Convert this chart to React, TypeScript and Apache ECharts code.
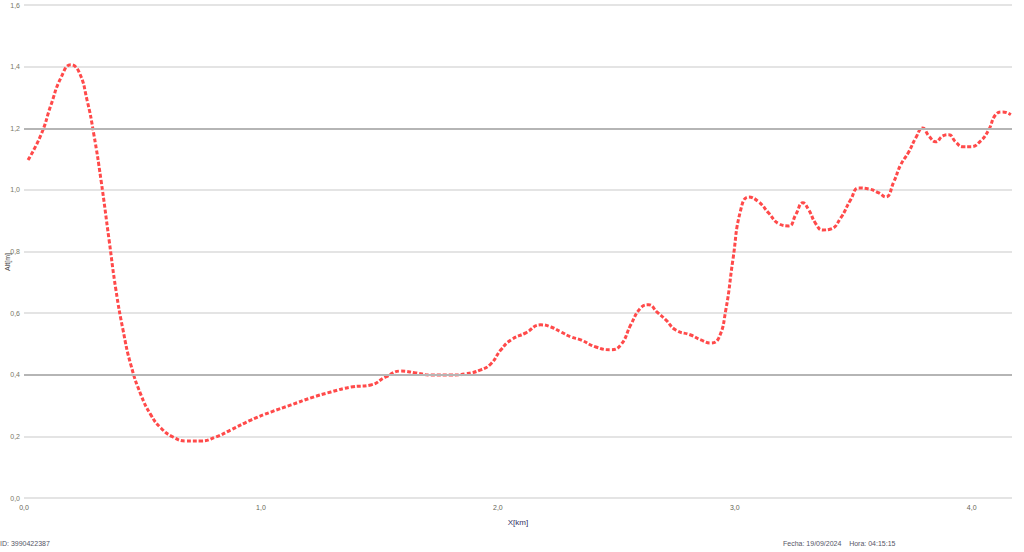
import React, { useEffect, useRef } from "react";
import * as echarts from "echarts";

const distKm = [0.017, 0.072, 0.114, 0.156, 0.198, 0.232, 0.266, 0.295, 0.325, 0.359, 0.388, 0.418, 0.451, 0.494, 0.536, 0.578, 0.629, 0.684, 0.747, 0.81, 0.873, 0.958, 1.042, 1.127, 1.211, 1.295, 1.38, 1.464, 1.527, 1.591, 1.654, 1.717, 1.802, 1.865, 1.928, 1.97, 2.013, 2.055, 2.118, 2.181, 2.224, 2.266, 2.308, 2.35, 2.414, 2.477, 2.519, 2.561, 2.603, 2.637, 2.671, 2.709, 2.751, 2.814, 2.857, 2.899, 2.932, 2.962, 2.992, 3.025, 3.059, 3.101, 3.143, 3.186, 3.228, 3.257, 3.287, 3.312, 3.342, 3.371, 3.405, 3.447, 3.489, 3.523, 3.565, 3.608, 3.637, 3.671, 3.7, 3.734, 3.764, 3.793, 3.819, 3.848, 3.878, 3.903, 3.932, 3.962, 3.996, 4.038, 4.072, 4.101, 4.131, 4.165];
const altitude = [1.097, 1.179, 1.276, 1.364, 1.406, 1.383, 1.292, 1.179, 1.032, 0.838, 0.675, 0.545, 0.432, 0.334, 0.269, 0.227, 0.198, 0.185, 0.185, 0.198, 0.221, 0.253, 0.279, 0.302, 0.325, 0.344, 0.36, 0.367, 0.393, 0.412, 0.406, 0.399, 0.399, 0.403, 0.416, 0.435, 0.481, 0.513, 0.536, 0.562, 0.555, 0.539, 0.523, 0.513, 0.49, 0.481, 0.497, 0.562, 0.617, 0.627, 0.604, 0.578, 0.545, 0.529, 0.513, 0.503, 0.519, 0.61, 0.773, 0.935, 0.977, 0.961, 0.925, 0.89, 0.883, 0.919, 0.958, 0.935, 0.89, 0.87, 0.873, 0.909, 0.968, 1.006, 1.003, 0.99, 0.977, 1.026, 1.081, 1.123, 1.169, 1.201, 1.175, 1.156, 1.175, 1.179, 1.156, 1.14, 1.14, 1.159, 1.195, 1.244, 1.253, 1.244];
const referenceLines = [0.4, 1.2];
const xAxisTitle = "X[km]";
const yAxisTitle = "Alt[m]";
const footerLeft = "ID: 3990422387";
const footerRight = "Fecha: 19/09/2024    Hora: 04:15:15";

export default function App() {
  const ref = useRef<HTMLDivElement>(null);
  useEffect(() => {
    if (!ref.current) return;
    const chart = echarts.init(ref.current, null, { renderer: "svg" });
    const fmt = (v: number) => v.toFixed(1).replace(".", ",");
    chart.setOption({
      animation: false,
      backgroundColor: "#ffffff",
      grid: { left: 24, right: 12, top: 5, bottom: 54, containLabel: false, outerBoundsMode: "none" },
      xAxis: {
        type: "value",
        min: 0,
        max: 4.17,
        interval: 1,
        name: xAxisTitle,
        nameLocation: "middle",
        nameGap: 20,
        nameTextStyle: { fontSize: 8, color: "#336" },
        axisLine: { show: false },
        axisTick: { show: false },
        splitLine: { show: false },
        axisLabel: {
          fontSize: 7,
          color: "#665",
          margin: 6,
          showMaxLabel: false,
          formatter: (v: number) => fmt(v),
        },
      },
      yAxis: {
        type: "value",
        min: 0,
        max: 1.6,
        interval: 0.2,
        axisLine: { show: false },
        axisTick: { show: false },
        splitLine: { show: true, lineStyle: { color: "#e4e4e4", width: 2 } },
        axisLabel: {
          fontSize: 7,
          color: "#776",
          margin: 4,
          formatter: (v: number) => fmt(v),
        },
      },
      series: [
        {
          type: "line",
          data: distKm.map((d, i) => [d, altitude[i]]),
          smooth: 0.5,
          symbol: "none",
          lineStyle: { color: "#ff4a4a", width: 3, type: [4, 2] },
          markLine: {
            silent: true,
            symbol: "none",
            label: { show: false },
            lineStyle: { color: "#b5b5b5", width: 2, type: "solid" },
            data: referenceLines.map((v) => ({ yAxis: v })),
          },
          z: 3,
        },
      ],
      graphic: [
        {
          type: "text",
          x: 7,
          y: 262,
          rotation: Math.PI / 2,
          style: {
            text: yAxisTitle,
            fontSize: 7,
            fill: "#444",
            align: "center",
            verticalAlign: "middle",
          },
        },
        {
          type: "text",
          left: 0,
          top: 540,
          style: { text: footerLeft, fontSize: 7, fill: "#556" },
        },
        {
          type: "text",
          left: 783,
          top: 540,
          style: { text: footerRight, fontSize: 7, fill: "#556" },
        },
      ],
    });
    return () => chart.dispose();
  }, []);
  return (
    <div
      ref={ref}
      style={{ position: "fixed", left: 0, top: 0, width: 1024, height: 552, background: "#fff" }}
    />
  );
}
